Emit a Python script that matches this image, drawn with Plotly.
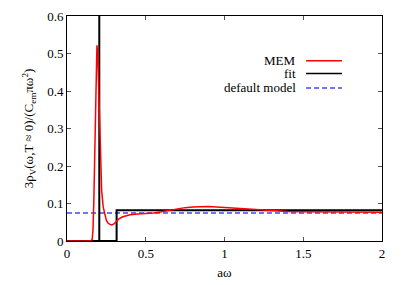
import plotly.graph_objects as go

# MEM spectral function
mem_omega = [0.0, 0.15, 0.16, 0.165, 0.17, 0.175, 0.18, 0.185, 0.19, 0.195, 0.20, 0.205,
             0.21, 0.215, 0.22, 0.23, 0.24, 0.25, 0.26, 0.27, 0.285, 0.30, 0.315, 0.33,
             0.35, 0.37, 0.40, 0.45, 0.5, 0.55, 0.6, 0.65, 0.7, 0.75, 0.8, 0.85, 0.9,
             0.95, 1.0, 1.1, 1.2, 1.3, 1.4, 1.5, 1.7, 2.0]
mem_value = [0.0, 0.0, 0.004, 0.03, 0.10, 0.21, 0.34, 0.46, 0.522, 0.50, 0.42, 0.33,
             0.25, 0.18, 0.135, 0.09, 0.067, 0.055, 0.048, 0.045, 0.043, 0.046, 0.053, 0.059,
             0.064, 0.067, 0.070, 0.072, 0.073, 0.075, 0.078, 0.082, 0.086, 0.089, 0.091, 0.092, 0.092,
             0.091, 0.090, 0.087, 0.084, 0.081, 0.079, 0.078, 0.077, 0.077]

# fit: delta peak + step continuum
fit_omega = [0.0, 0.205, 0.205, 0.205, 0.315, 0.315, 2.0]
fit_value = [0.0, 0.0, 0.7, 0.0, 0.0, 0.082, 0.082]

# default model
dm_omega = [0.0, 2.0]
dm_value = [0.0747, 0.0747]

x_ticks = [0, 0.5, 1, 1.5, 2]
x_ticklabels = ["0", "0.5", "1", "1.5", "2"]
y_ticks = [0, 0.1, 0.2, 0.3, 0.4, 0.5, 0.6]
y_ticklabels = ["0", "0.1", "0.2", "0.3", "0.4", "0.5", "0.6"]

legend_names = ["MEM", "fit", "default model"]
legend_colors = ["#ff0000", "#000000", "#4444ee"]
legend_dash = ["solid", "solid", "dash"]

FONT = "Liberation Serif"

fig = go.Figure()
fig.add_trace(go.Scatter(x=dm_omega, y=dm_value, mode="lines",
                         line=dict(color="#4444ee", width=1.3, dash="5px,3px"), showlegend=False))
fig.add_trace(go.Scatter(x=fit_omega, y=fit_value, mode="lines",
                         line=dict(color="#000000", width=2), showlegend=False))
fig.add_trace(go.Scatter(x=mem_omega, y=mem_value, mode="lines",
                         line=dict(color="#ff0000", width=1.5),
                         showlegend=False))

# manual legend (text right-aligned, sample to the right)
ys = [0.801, 0.744, 0.68]
for name, col, dash, yy in zip(legend_names, legend_colors, legend_dash, ys):
    fig.add_annotation(x=0.733, y=yy, xref="paper", yref="paper", text=name,
                       showarrow=False, xanchor="right", yanchor="middle",
                       font=dict(family=FONT, size=13, color="black"))
    fig.add_shape(type="line", xref="paper", yref="paper", x0=0.759, x1=0.873, y0=yy, y1=yy,
                  line=dict(color=col, width=1.5 if dash == "solid" else 1.3,
                            dash="solid" if dash == "solid" else "5px,3px"))

axis_common = dict(showgrid=False, zeroline=False, showline=True, linecolor="black",
                   linewidth=1, mirror="ticks", ticks="inside", ticklen=4, automargin=False,
                   tickcolor="#555555", tickfont=dict(family=FONT, size=13, color="black"))

fig.update_xaxes(range=[0, 2], tickvals=x_ticks, ticktext=x_ticklabels,
                 title=dict(text="aω", font=dict(family=FONT, size=13, color="black"), standoff=8),
                 **axis_common)
fig.update_yaxes(range=[0, 0.6], tickvals=y_ticks, ticktext=y_ticklabels,
                 title=dict(text="3ρ<sub>V</sub>(ω,T ≈ 0)/(C<sub>em</sub>πω<sup>2</sup>)",
                            font=dict(family=FONT, size=13, color="black"), standoff=10),
                 **axis_common)

fig.update_layout(width=407, height=285, margin=dict(l=67, r=25, t=16, b=44),
                  plot_bgcolor="white", paper_bgcolor="white",
                  font=dict(family=FONT, size=13, color="black"))

fig.write_html("out.html", config={"displayModeBar": False},
               post_script="document.body.style.margin='0';")
